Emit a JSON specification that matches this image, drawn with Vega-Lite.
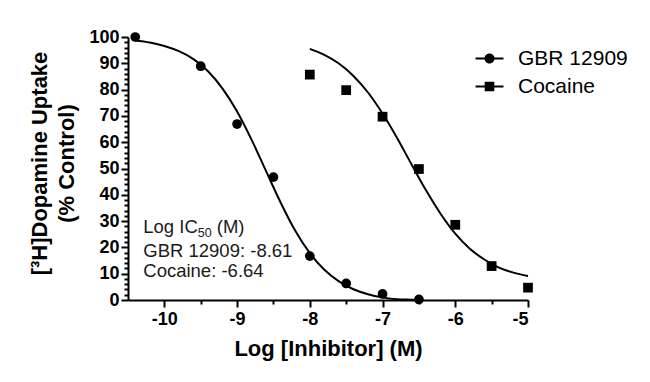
{
  "$schema": "https://vega.github.io/schema/vega-lite/v6.json",
  "width": 400,
  "height": 263,
  "autosize": "none",
  "padding": {"left": 128, "top": 37, "right": 122, "bottom": 82},
  "background": "white",
  "config": {
    "font": "Liberation Sans",
    "view": {"stroke": null},
    "axis": {"domainColor": "black", "domainWidth": 2, "tickColor": "black", "tickWidth": 2, "grid": false, "labelColor": "black", "titleColor": "black", "labelFont": "Liberation Sans", "titleFont": "Liberation Sans"}
  },
  "datasets": {
    "pts": [
      {"series": "GBR 12909", "x": -10.4, "y": 100},
      {"series": "GBR 12909", "x": -9.5, "y": 88.9},
      {"series": "GBR 12909", "x": -9.0, "y": 66.9},
      {"series": "GBR 12909", "x": -8.5, "y": 46.7},
      {"series": "GBR 12909", "x": -8.0, "y": 16.7},
      {"series": "GBR 12909", "x": -7.5, "y": 6.3},
      {"series": "GBR 12909", "x": -7.0, "y": 2.3},
      {"series": "GBR 12909", "x": -6.5, "y": 0.2},
      {"series": "Cocaine", "x": -8.0, "y": 85.7},
      {"series": "Cocaine", "x": -7.5, "y": 79.8},
      {"series": "Cocaine", "x": -7.0, "y": 69.7},
      {"series": "Cocaine", "x": -6.5, "y": 49.8},
      {"series": "Cocaine", "x": -6.0, "y": 28.6},
      {"series": "Cocaine", "x": -5.5, "y": 12.9},
      {"series": "Cocaine", "x": -5.0, "y": 4.7}
    ],
    "curves": [
      {"series": "GBR 12909", "x": -10.4, "y": 98.7},
      {"series": "GBR 12909", "x": -10.2, "y": 97.9},
      {"series": "GBR 12909", "x": -10.0, "y": 96.6},
      {"series": "GBR 12909", "x": -9.8, "y": 94.6},
      {"series": "GBR 12909", "x": -9.6, "y": 91.6},
      {"series": "GBR 12909", "x": -9.4, "y": 87.0},
      {"series": "GBR 12909", "x": -9.2, "y": 80.4},
      {"series": "GBR 12909", "x": -9.0, "y": 71.7},
      {"series": "GBR 12909", "x": -8.8, "y": 60.9},
      {"series": "GBR 12909", "x": -8.6, "y": 48.9},
      {"series": "GBR 12909", "x": -8.4, "y": 37.0},
      {"series": "GBR 12909", "x": -8.2, "y": 26.3},
      {"series": "GBR 12909", "x": -8.0, "y": 17.8},
      {"series": "GBR 12909", "x": -7.8, "y": 11.5},
      {"series": "GBR 12909", "x": -7.6, "y": 7.1},
      {"series": "GBR 12909", "x": -7.4, "y": 4.1},
      {"series": "GBR 12909", "x": -7.2, "y": 2.2},
      {"series": "GBR 12909", "x": -7.0, "y": 1.0},
      {"series": "GBR 12909", "x": -6.8, "y": 0.3},
      {"series": "GBR 12909", "x": -6.6, "y": 0.1},
      {"series": "GBR 12909", "x": -6.5, "y": 0.0},
      {"series": "Cocaine", "x": -8.0, "y": 95.5},
      {"series": "Cocaine", "x": -7.8, "y": 93.2},
      {"series": "Cocaine", "x": -7.6, "y": 89.9},
      {"series": "Cocaine", "x": -7.4, "y": 85.2},
      {"series": "Cocaine", "x": -7.2, "y": 78.9},
      {"series": "Cocaine", "x": -7.0, "y": 70.9},
      {"series": "Cocaine", "x": -6.8, "y": 61.6},
      {"series": "Cocaine", "x": -6.6, "y": 51.5},
      {"series": "Cocaine", "x": -6.4, "y": 41.6},
      {"series": "Cocaine", "x": -6.2, "y": 32.7},
      {"series": "Cocaine", "x": -6.0, "y": 25.2},
      {"series": "Cocaine", "x": -5.8, "y": 19.5},
      {"series": "Cocaine", "x": -5.6, "y": 15.4},
      {"series": "Cocaine", "x": -5.4, "y": 12.3},
      {"series": "Cocaine", "x": -5.2, "y": 10.4},
      {"series": "Cocaine", "x": -5.0, "y": 9.1}
    ],
    "notes": [
      {"x": -10.29, "y": 25.5, "text": "Log IC"},
      {"x": -9.279, "y": 25.5, "text": "(M)"},
      {"x": -10.29, "y": 16.5, "text": "GBR 12909: -8.61"},
      {"x": -10.29, "y": 8.6, "text": "Cocaine: -6.64"}
    ],
    "subs": [
      {"x": -9.54, "y": 24.0, "text": "50"}
    ]
  },
  "layer": [
    {
      "data": {"name": "curves"},
      "mark": {"type": "line", "color": "black", "strokeWidth": 2, "interpolate": "monotone"},
      "encoding": {
        "x": {"field": "x", "type": "quantitative", "scale": {"domain": [-10.5, -5], "nice": false, "zero": false},
              "axis": {"orient": "bottom", "values": [-10, -9, -8, -7, -6, -5], "labelExpr": "toString(datum.value)", "tickSize": 7, "labelFontSize": 18, "labelFontWeight": "bold", "labelPadding": 3, "title": "Log [Inhibitor] (M)", "titleFontSize": 22, "titleFontWeight": "bold", "titlePadding": 10}},
        "y": {"field": "y", "type": "quantitative", "scale": {"domain": [0, 100], "nice": false, "zero": false},
              "axis": {"orient": "left", "values": [0, 10, 20, 30, 40, 50, 60, 70, 80, 90, 100], "tickSize": 7, "labelFontSize": 18, "labelFontWeight": "bold", "labelPadding": 2, "title": ["[³H]Dopamine Uptake", "(% Control)"], "titleFontSize": 22, "titleFontWeight": "bold", "titleLineHeight": 27, "titlePadding": 10, "titleY": 126}},
        "detail": {"field": "series"}
      }
    },
    {
      "data": {"name": "pts"},
      "mark": {"type": "point", "filled": true, "opacity": 1, "color": "black", "size": 95},
      "encoding": {
        "x": {"field": "x", "type": "quantitative",
              "axis": {"orient": "bottom", "values": [-9.5, -8.5, -7.5, -6.5, -5.5], "labels": false, "domain": false, "tickSize": 4, "title": null}},
        "y": {"field": "y", "type": "quantitative",
              "axis": {"orient": "left", "values": [2, 4, 6, 8, 12, 14, 16, 18, 22, 24, 26, 28, 32, 34, 36, 38, 42, 44, 46, 48, 52, 54, 56, 58, 62, 64, 66, 68, 72, 74, 76, 78, 82, 84, 86, 88, 92, 94, 96, 98], "labels": false, "domain": false, "tickSize": 4, "title": null}},
        "shape": {"field": "series", "type": "nominal",
                  "scale": {"domain": ["GBR 12909", "Cocaine"], "range": ["circle", "square"]},
                  "legend": null}
      }
    },
    {
      "data": {"name": "pts"},
      "transform": [{"filter": "false"}],
      "mark": {"type": "point", "filled": true, "opacity": 1, "color": "black"},
      "encoding": {
        "x": {"field": "x", "type": "quantitative", "axis": null},
        "y": {"field": "y", "type": "quantitative", "axis": null},
        "shape": {"field": "series", "type": "nominal",
                  "scale": {"domain": ["GBR 12909", "Cocaine"],
                            "range": ["M-1.4,-0.1L1.4,-0.1L1.4,0.1L-1.4,0.1ZM0.5,0A0.5,0.5 0 1 1 -0.5,0A0.5,0.5 0 1 1 0.5,0Z",
                                      "M-1.4,-0.1L1.4,-0.1L1.4,0.1L-1.4,0.1ZM-0.48,-0.48L0.48,-0.48L0.48,0.48L-0.48,0.48Z"]},
                  "legend": {"title": null, "orient": "none", "legendX": 351, "legendY": 11, "labelFont": "Liberation Sans", "labelFontSize": 21, "labelColor": "black", "symbolSize": 400, "rowPadding": 6, "labelOffset": 18, "symbolStrokeWidth": 0, "symbolFillColor": "black", "symbolOpacity": 1}}
      }
    },
    {
      "data": {"name": "notes"},
      "mark": {"type": "text", "align": "left", "baseline": "alphabetic", "font": "Liberation Sans", "fontSize": 18.5, "color": "#1a1a1a"},
      "encoding": {
        "x": {"field": "x", "type": "quantitative", "axis": null},
        "y": {"field": "y", "type": "quantitative", "axis": null},
        "text": {"field": "text"}
      }
    },
    {
      "data": {"name": "subs"},
      "mark": {"type": "text", "align": "left", "baseline": "alphabetic", "font": "Liberation Sans", "fontSize": 12.5, "color": "#1a1a1a"},
      "encoding": {
        "x": {"field": "x", "type": "quantitative", "axis": null},
        "y": {"field": "y", "type": "quantitative", "axis": null},
        "text": {"field": "text"}
      }
    }
  ],
  "resolve": {"axis": {"x": "independent", "y": "independent"}, "scale": {"shape": "independent"}}
}
